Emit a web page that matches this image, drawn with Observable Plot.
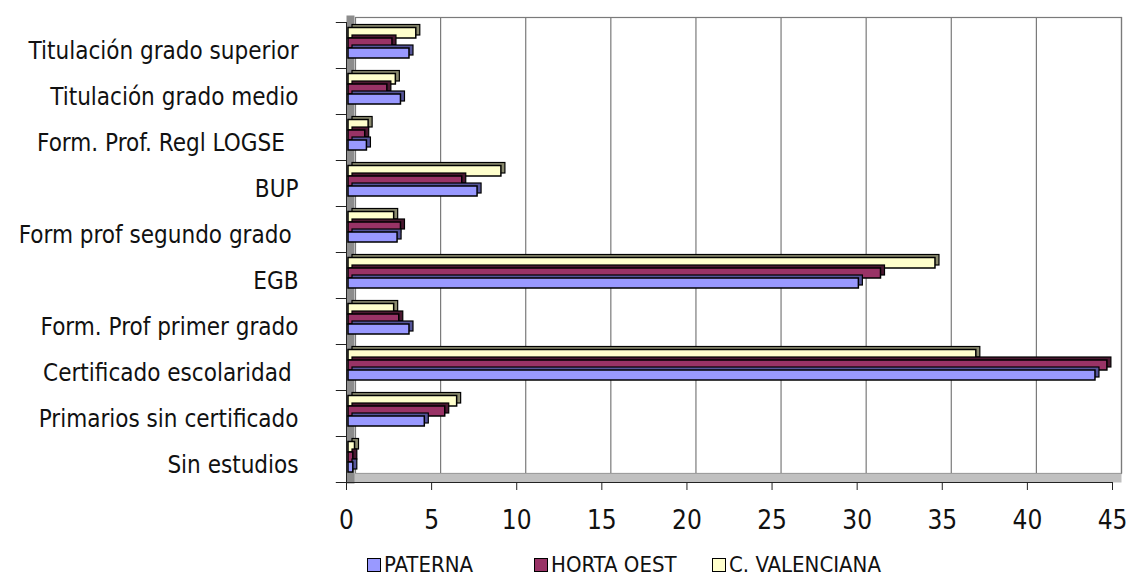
<!DOCTYPE html>
<html>
<head>
<meta charset="utf-8">
<script src="https://cdn.jsdelivr.net/npm/d3@7"></script>
<script src="https://cdn.jsdelivr.net/npm/@observablehq/plot@0.6"></script>
<style>
  html, body { margin: 0; padding: 0; background: #fff; }
  #wrap { position: relative; width: 1129px; height: 578px; font-family: "DejaVu Sans Condensed", "Liberation Sans Narrow", sans-serif; color: #111; }
  #legend { position: absolute; top: 552px; left: 0; width: 1129px; height: 26px; font-size: 22px; }
  .item { position: absolute; top: 0; display: flex; align-items: center; white-space: nowrap; }
  .sw { width: 12px; height: 12px; border: 1px solid #000; margin-right: 3px; }
</style>
</head>
<body>
<div id="wrap"><div id="chart"></div><div id="legend"></div></div>
<script>
const categories = ["Titulación grado superior","Titulación grado medio","Form. Prof. Regl LOGSE  ","BUP","Form prof segundo grado ","EGB","Form. Prof primer grado","Certificado escolaridad ","Primarios sin certificado","Sin estudios"];
const seriesNames = ["PATERNA", "HORTA OEST", "C. VALENCIANA"];
const paterna     = [3.7, 3.2, 1.2, 7.7, 3.0, 30.1, 3.7, 44.0, 4.6, 0.4];
const hortaOest   = [2.7, 2.4, 1.1, 6.8, 3.2, 31.4, 3.1, 44.7, 5.8, 0.4];
const cValenciana = [4.1, 2.9, 1.3, 9.1, 2.8, 34.6, 2.8, 37.0, 6.5, 0.5];
const xTicks = [0, 5, 10, 15, 20, 25, 30, 35, 40, 45];

const front = ["#9999FF", "#993366", "#FFFFCC"];
const side  = ["#55559a", "#4a1830", "#8a8a6e"];
const insets = [[26, 10], [16, 20], [5.5, 30]]; // [top, bottom] within band

const values = [paterna, hortaOest, cValenciana];
const rows = seriesNames.map((s, i) => categories.map((c, j) => ({category: c, series: s, value: values[i][j]})));

const marks = [
  // back wall gridlines + frame
  Plot.ruleX(xTicks.slice(1), {stroke: "#7a7a7a", strokeWidth: 1.2, dx: 9, dy: -5, insetBottom: 4}),
  Plot.frame({stroke: "#7a7a7a", strokeWidth: 1.2, dx: 9, dy: -5, insetBottom: 4, insetRight: 0}),
  // floor
  Plot.frame({anchor: "bottom", stroke: "#c0c0c0", strokeWidth: 9, dx: 4.5, dy: -4.5}),
  // left wall
  Plot.frame({anchor: "left", stroke: "#8c8c8c", strokeWidth: 8, dx: 4, dy: -3}),
  Plot.frame({anchor: "bottom", stroke: "#222"}),
  Plot.frame({anchor: "left", stroke: "#222"}),
  // left band boundary ticks
  Plot.ruleY(categories, {y: d => d, x1: -0.6, x2: 0, dy: -23, stroke: "#222"}),
  Plot.ruleY(categories.slice(-1), {y: d => d, x1: -0.6, x2: 0, dy: 23, stroke: "#222"})
];
// bars in 3D: side copy then front face
[2, 1, 0].forEach(i => {
  marks.push(Plot.barX(rows[i], {x: "value", y: "category", fill: side[i], stroke: "#000", strokeWidth: 1.2, insetTop: insets[i][0], insetBottom: insets[i][1], insetLeft: 2, dx: 4, dy: -3}));
  marks.push(Plot.barX(rows[i], {x: "value", y: "category", fill: front[i], stroke: "#000", strokeWidth: 1.5, insetTop: insets[i][0], insetBottom: insets[i][1], insetLeft: 2}));
});

const chart = Plot.plot({
  width: 1129,
  height: 548,
  marginLeft: 346,
  marginRight: 17,
  marginTop: 22,
  marginBottom: 66,
  style: {fontFamily: '"DejaVu Sans Condensed", "Liberation Sans Narrow", sans-serif', background: "#fff", color: "#111"},
  x: {domain: [0, 45], label: null},
  y: {domain: categories, padding: 0, label: null},
  marks: [
    ...marks,
    Plot.axisX({ticks: xTicks, tickSize: 8, tickPadding: 20, label: null, fontSize: 26, stroke: "#222"}),
    Plot.axisY({tickSize: 0, tickPadding: 48, label: null, fontSize: 24, dy: 6})
  ]
});
document.getElementById("chart").appendChild(chart);

const lefts = [367, 534, 712];
const leg = document.getElementById("legend");
seriesNames.forEach((s, i) => {
  const it = document.createElement("div");
  it.className = "item";
  it.style.left = lefts[i] + "px";
  it.innerHTML = `<span class="sw" style="background:${front[i]}"></span><span>${s}</span>`;
  leg.appendChild(it);
});
</script>
</body>
</html>
